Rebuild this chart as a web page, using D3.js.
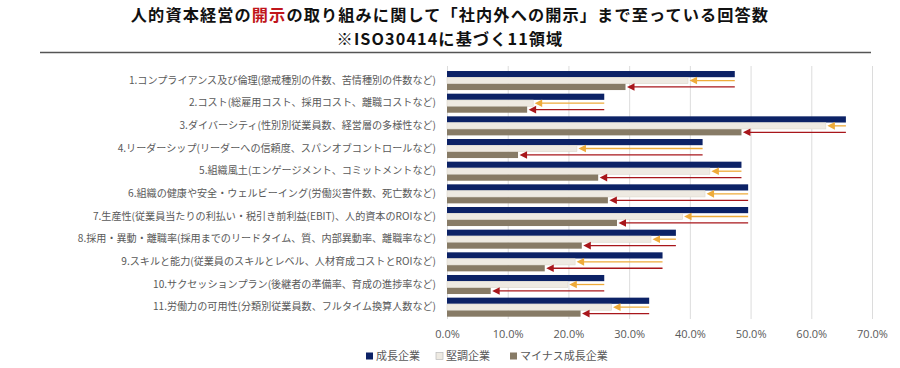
<!DOCTYPE html>
<html><head><meta charset="utf-8">
<script src="https://cdn.jsdelivr.net/npm/d3@7"></script>
<style>
html,body{margin:0;padding:0;background:#fff;}
svg{display:block;font-family:"Noto Sans CJK JP","Noto Sans",sans-serif;}
</style></head>
<body><svg id="c" width="900" height="368"></svg>
<script>
const categories = [
 "1.コンプライアンス及び倫理(懲戒種別の件数、苦情種別の件数など)",
 "2.コスト(総雇用コスト、採用コスト、離職コストなど)",
 "3.ダイバーシティ(性別別従業員数、経営層の多様性など)",
 "4.リーダーシップ(リーダーへの信頼度、スパンオブコントロールなど)",
 "5.組織風土(エンゲージメント、コミットメントなど)",
 "6.組織の健康や安全・ウェルビーイング(労働災害件数、死亡数など)",
 "7.生産性(従業員当たりの利払い・税引き前利益(EBIT)、人的資本のROIなど)",
 "8.採用・異動・離職率(採用までのリードタイム、質、内部異動率、離職率など)",
 "9.スキルと能力(従業員のスキルとレベル、人材育成コストとROIなど)",
 "10.サクセッションプラン(後継者の準備率、育成の進捗率など)",
 "11.労働力の可用性(分類別従業員数、フルタイム換算人数など)"
];
const seriesNames = ["成長企業","堅調企業","マイナス成長企業"];
const growth   = [0.474,0.259,0.657,0.421,0.485,0.496,0.496,0.377,0.355,0.259,0.333];
const steady   = [0.397,0.142,0.624,0.214,0.433,0.425,0.388,0.336,0.211,0.199,0.271];
const negative = [0.294,0.132,0.485,0.117,0.249,0.265,0.280,0.222,0.161,0.072,0.220];
const tickValues = [0,0.1,0.2,0.3,0.4,0.5,0.6,0.7];
const titleParts = [["人的資本経営の",false],["開示",true],["の取り組みに関して「社内外への開示」まで至っている回答数",false]];
const subtitle = "※ISO30414に基づく11領域";

const colors = ["#0c2266","#eeeae2","#877b66"];
const arrowColors = [null,"#eeab3a","#a8161b"];

const svg = d3.select("#c");
const x = d3.scaleLinear().domain([0,0.7]).range([447,872]);
const y = d3.scaleBand().domain(categories).range([69.2,318.5]).paddingInner(0.16).paddingOuter(0.08);
const ys = d3.scaleBand().domain(seriesNames).range([0,y.bandwidth()]).paddingInner(0.04);
const series = [growth,steady,negative];

// title
const t1 = svg.append("text").attr("x",450).attr("y",21).attr("text-anchor","middle")
  .attr("font-size",16.2).attr("font-weight","bold").attr("letter-spacing",1.1).attr("fill","#111");
titleParts.forEach(([s,red])=>t1.append("tspan").text(s).attr("fill",red?"#c0161b":"#111"));
svg.append("text").attr("x",450).attr("y",44.6).attr("text-anchor","middle")
  .attr("font-size",16.2).attr("font-weight","bold").attr("letter-spacing",1.1).attr("fill","#111").text(subtitle);
svg.append("line").attr("x1",40).attr("x2",871).attr("y1",52.5).attr("y2",52.5)
  .attr("stroke","#555").attr("stroke-width",1.3);

// grid
svg.append("g").selectAll("line").data(tickValues).join("line")
  .attr("x1",d=>x(d)+0.5).attr("x2",d=>x(d)+0.5).attr("y1",66).attr("y2",319)
  .attr("stroke","#dcdcdc").attr("stroke-width",1);

// axis labels
const xAxis = d3.axisBottom(x).tickValues(tickValues).tickFormat(d3.format(".1%")).tickSize(0).tickPadding(0);
const gx = svg.append("g").attr("transform","translate(0,330)").call(xAxis);
gx.select(".domain").remove();
gx.selectAll("text").attr("font-size",11).attr("fill","#595959").attr("font-family","'Open Sans','Noto Sans',sans-serif");

// category labels
const yAxis = d3.axisLeft(y).tickSize(0).tickPadding(0);
const gy = svg.append("g").attr("transform","translate(436,0)").call(yAxis);
gy.select(".domain").remove();
gy.selectAll("text").attr("font-size",10.1).attr("fill","#595959").attr("font-family","'Noto Sans CJK JP',sans-serif");

// bars
const groups = svg.append("g").selectAll("g").data(categories).join("g")
  .attr("transform",d=>`translate(0,${y(d)})`);
series.forEach((vals,si)=>{
  groups.append("rect")
    .attr("x",x(0)).attr("y",ys(seriesNames[si]))
    .attr("width",(d,i)=>x(vals[i])-x(0)).attr("height",ys.bandwidth())
    .attr("fill",colors[si])
    .attr("stroke",si===1?"#ddd8cc":"none").attr("stroke-width",0.6);
});
// arrows
[1,2].forEach(si=>{
  const vals = series[si];
  const cy = ys(seriesNames[si]) + ys.bandwidth()/2;
  groups.append("line")
    .attr("x1",(d,i)=>x(growth[i])).attr("x2",(d,i)=>x(vals[i])+6)
    .attr("y1",cy).attr("y2",cy).attr("stroke",arrowColors[si]).attr("stroke-width",1.3);
  groups.append("path")
    .attr("d",(d,i)=>{const tx=x(vals[i])+1.5;return `M${tx},${cy}L${tx+7.5},${cy-3.8}L${tx+7.5},${cy+3.8}Z`;})
    .attr("fill",arrowColors[si]);
});

// legend
const legendItems = [{n:seriesNames[0],x:366},{n:seriesNames[1],x:436},{n:seriesNames[2],x:510}];
const lg = svg.append("g");
legendItems.forEach((it,i)=>{
  lg.append("rect").attr("x",it.x).attr("y",352.5).attr("width",7).attr("height",7)
    .attr("fill",colors[i]).attr("stroke",i===1?"#bbb":"none").attr("stroke-width",0.7);
  lg.append("text").attr("x",it.x+10).attr("y",360).attr("font-size",11).attr("fill","#595959").text(it.n);
});
</script></body></html>
